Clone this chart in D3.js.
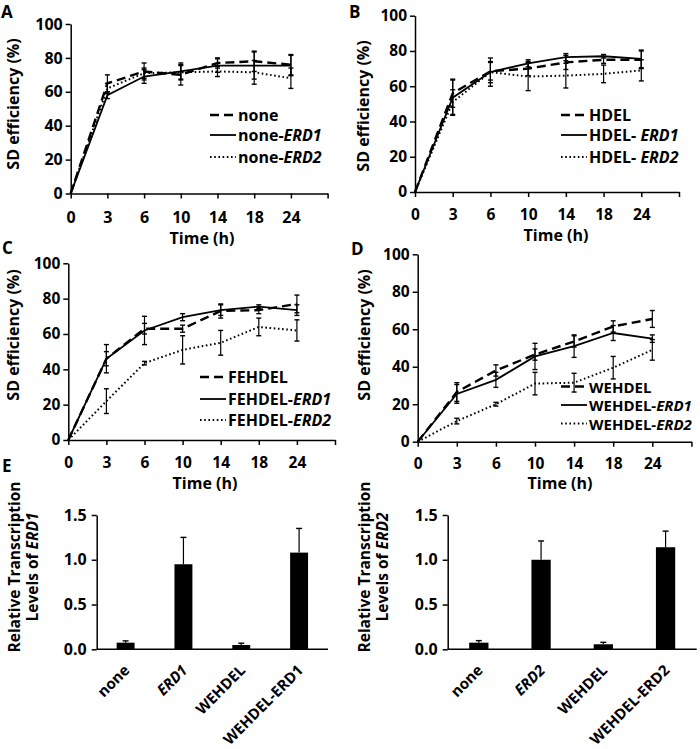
<!DOCTYPE html>
<html><head><meta charset="utf-8">
<script src="https://cdn.jsdelivr.net/npm/d3@7"></script>
<style>
body{margin:0;background:#fff}
text{font-family:"Open Sans",sans-serif;font-weight:700;fill:#000}
</style>
</head><body>
<svg id="c" width="700" height="749"></svg>
<script>
// ---------------- DATA ----------------
const timeLabels = ["0","3","6","10","14","18","24"];
const yTicksLine = [0,20,40,60,80,100];

// Panel A
const A_none      = [0, 65, 72, 70, 77, 78, 76];
const A_none_err  = [0, 5, 5, 6, 3, 6, 6];
const A_erd1      = [0, 58, 69, 72, 75.5, 75.5, 75.5];
const A_erd1_err  = [0, 2, 4, 5, 4, 8, 6];
const A_erd2      = [0, 62, 71, 71.5, 72, 71.5, 68];
const A_erd2_err  = [0, 3, 3, 4, 3, 7, 6];
// Panel B
const B_hdel      = [0, 56, 68.5, 70, 73.5, 75, 75];
const B_hdel_err  = [0, 8, 5, 4, 4, 2, 5];
const B_erd1      = [0, 53.5, 68, 73, 76.5, 77, 75.5];
const B_erd1_err  = [0, 10, 8, 2, 2, 1, 5];
const B_erd2      = [0, 51, 68, 65.5, 66, 67, 69];
const B_erd2_err  = [0, 7, 6, 8, 7, 5, 6];
// Panel C
const C_fehdel     = [0, 46, 63, 63, 73, 73.5, 77];
const C_fehdel_err = [0, 4, 3, 2, 4, 2, 5];
const C_erd1       = [0, 46, 62, 69.5, 73.5, 75.5, 73.5];
const C_erd1_err   = [0, 8, 8, 2, 3, 1, 3];
const C_erd2       = [0, 22, 43.5, 51, 55, 64, 62];
const C_erd2_err   = [0, 7, 1, 8, 7, 5, 6];
// Panel D
const D_wehdel     = [0, 26.5, 38, 46.5, 53.5, 61.5, 65.5];
const D_wehdel_err = [0, 5, 3, 3, 3, 3, 4.5];
const D_erd1       = [0, 25.5, 33, 45.5, 51, 58, 55];
const D_erd1_err   = [0, 5, 4, 7, 6, 4, 2];
const D_erd2       = [0, 11, 20, 31, 31.5, 39.5, 49];
const D_erd2_err   = [0, 1.5, 1, 6, 5, 6, 5.5];

// Panel E
const E_ticks      = [0, 0.5, 1.0, 1.5];
const E1_cats      = ["none", "ERD1", "WEHDEL", "WEHDEL-ERD1"];
const E1_values    = [0.074, 0.95, 0.048, 1.08];
const E1_err       = [0.02, 0.30, 0.02, 0.27];
const E2_cats      = ["none", "ERD2", "WEHDEL", "WEHDEL-ERD2"];
const E2_values    = [0.074, 1.0, 0.056, 1.14];
const E2_err       = [0.023, 0.21, 0.022, 0.18];

// ---------------- DRAW ----------------
const svg = d3.select("#c");
const styles = {
  dashed: {w: 2.4, dash: "9,5"},
  solid:  {w: 1.8, dash: null},
  dotted: {w: 2.0, dash: "1.6,2.6"}
};

function drawLinePanel(p) {
  const g = svg.append("g");
  const x = d3.scaleLinear().domain([0, 7]).range([p.x0, p.x1]);
  const y = d3.scaleLinear().domain([0, 100]).range([p.y0, p.y1]);

  const ya = g.append("g").attr("transform", `translate(${p.x0},0)`)
    .call(d3.axisLeft(y).tickValues(yTicksLine).tickSize(5).tickSizeOuter(0).tickPadding(3));
  const xa = g.append("g").attr("transform", `translate(0,${p.y0})`)
    .call(d3.axisBottom(x).tickValues(d3.range(8)).tickSize(5).tickSizeOuter(0)
      .tickFormat(i => timeLabels[i] !== undefined ? timeLabels[i] : ""));
  [ya, xa].forEach(a => {
    a.selectAll("path,line").attr("stroke", "#000").attr("stroke-width", 1.5);
    a.selectAll("text").style("font-size", p.tickFs).attr("font-family", null);
  });
  xa.selectAll("text").attr("y", p.tickY - p.y0).attr("dy", "0.36em");

  g.append("text").attr("x", p.titleX).attr("y", p.titleY)
    .attr("text-anchor", "middle").attr("dominant-baseline", "central")
    .style("font-size", "16px").text("Time (h)");
  g.append("text").attr("transform", `translate(${p.ytx},${p.yty}) rotate(-90)`)
    .attr("text-anchor", "middle").attr("dominant-baseline", "central")
    .style("font-size", "16px").text("SD efficiency (%)");
  g.append("text").attr("x", p.lx).attr("y", p.ly).style("font-size", "17px").text(p.letter);

  p.series.forEach(s => {
    const st = styles[s.style];
    s.values.forEach((v, i) => {
      const e = s.err[i];
      if (!e) return;
      const cx = x(i);
      g.append("line").attr("x1", cx).attr("x2", cx).attr("y1", y(v - e)).attr("y2", y(v + e))
        .attr("stroke", "#000").attr("stroke-width", 1.2);
      [v - e, v + e].forEach(t => g.append("line").attr("x1", cx - 2.5).attr("x2", cx + 2.5)
        .attr("y1", y(t)).attr("y2", y(t)).attr("stroke", "#000").attr("stroke-width", 1.4));
    });
    g.append("path").datum(s.values)
      .attr("d", d3.line().x((d, i) => x(i)).y(d => y(d)))
      .attr("fill", "none").attr("stroke", "#000").attr("stroke-width", st.w)
      .attr("stroke-dasharray", st.dash);
  });

  p.series.forEach((s, k) => {
    const st = styles[s.style];
    const ly = p.legY[k];
    g.append("line").attr("x1", p.legX).attr("x2", p.legX + 26).attr("y1", ly).attr("y2", ly)
      .attr("stroke", "#000").attr("stroke-width", st.w).attr("stroke-dasharray", st.dash);
    const t = g.append("text").attr("x", p.legX + 28).attr("y", ly)
      .attr("dominant-baseline", "central").style("font-size", p.legFs);
    t.append("tspan").text(s.name[0]);
    if (s.name[1]) t.append("tspan").style("font-style", "italic").text(s.name[1]);
  });
}

drawLinePanel({letter: "A", lx: 1, ly: 17.5, x0: 70.7, x1: 327.6, y0: 193.5, y1: 24,
  tickY: 217.5, titleX: 202, titleY: 238, ytx: 12.5, yty: 104, legX: 210, legY: [115, 135, 157],
  tickFs: "16px", legFs: "16px",
  series: [
    {name: ["none"], style: "dashed", values: A_none, err: A_none_err},
    {name: ["none-", "ERD1"], style: "solid", values: A_erd1, err: A_erd1_err},
    {name: ["none-", "ERD2"], style: "dotted", values: A_erd2, err: A_erd2_err}
  ]});
drawLinePanel({letter: "B", lx: 349, ly: 17.5, x0: 415, x1: 679, y0: 192, y1: 15.7,
  tickY: 214.5, titleX: 556, titleY: 235, ytx: 362.5, yty: 106, legX: 561, legY: [115, 135, 157],
  tickFs: "15.5px", legFs: "16px",
  series: [
    {name: ["HDEL"], style: "dashed", values: B_hdel, err: B_hdel_err},
    {name: ["HDEL- ", "ERD1"], style: "solid", values: B_erd1, err: B_erd1_err},
    {name: ["HDEL- ", "ERD2"], style: "dotted", values: B_erd2, err: B_erd2_err}
  ]});
drawLinePanel({letter: "C", lx: 2, ly: 254, x0: 68.3, x1: 335, y0: 440, y1: 263.3,
  tickY: 462.5, titleX: 205, titleY: 482.5, ytx: 12.5, yty: 335, legX: 200, legY: [377, 399, 420],
  tickFs: "15.5px", legFs: "16px",
  series: [
    {name: ["FEHDEL"], style: "dashed", values: C_fehdel, err: C_fehdel_err},
    {name: ["FEHDEL-", "ERD1"], style: "solid", values: C_erd1, err: C_erd1_err},
    {name: ["FEHDEL-", "ERD2"], style: "dotted", values: C_erd2, err: C_erd2_err}
  ]});
drawLinePanel({letter: "D", lx: 351, ly: 255, x0: 417.7, x1: 691.4, y0: 441.7, y1: 254.3,
  tickY: 463.5, titleX: 560, titleY: 483, ytx: 363.5, yty: 335, legX: 561, legY: [386.5, 405, 423.5],
  tickFs: "15.5px", legFs: "15px",
  series: [
    {name: ["WEHDEL"], style: "dashed", values: D_wehdel, err: D_wehdel_err},
    {name: ["WEHDEL-", "ERD1"], style: "solid", values: D_erd1, err: D_erd1_err},
    {name: ["WEHDEL-", "ERD2"], style: "dotted", values: D_erd2, err: D_erd2_err}
  ]});

svg.append("text").attr("x", 2).attr("y", 472).style("font-size", "17px").text("E");

function drawBarPanel(p) {
  const g = svg.append("g");
  const x = d3.scaleBand().domain(p.cats).range([p.x0, p.x1]).padding(0);
  const y = d3.scaleLinear().domain([0, 1.5]).range([p.y0, p.y1]);
  const bw = x.bandwidth() * 0.31;

  const ya = g.append("g").attr("transform", `translate(${p.x0},0)`)
    .call(d3.axisLeft(y).tickValues(E_ticks).tickSize(5).tickSizeOuter(0).tickPadding(5)
      .tickFormat(d3.format(".1f")));
  ya.selectAll("path,line").attr("stroke", "#000").attr("stroke-width", 1.5);
  ya.selectAll("text").style("font-size", "16px").attr("font-family", null);
  g.append("line").attr("x1", p.x0).attr("x2", p.x1).attr("y1", p.y0).attr("y2", p.y0)
    .attr("stroke", "#000").attr("stroke-width", 1.5);

  p.cats.forEach((c, i) => {
    const cx = x(c) + x.bandwidth() / 2;
    const v = p.values[i], e = p.err[i];
    g.append("line").attr("x1", cx).attr("x2", cx).attr("y1", y(v)).attr("y2", y(v + e))
      .attr("stroke", "#000").attr("stroke-width", 1.2);
    g.append("line").attr("x1", cx - 3).attr("x2", cx + 3).attr("y1", y(v + e)).attr("y2", y(v + e))
      .attr("stroke", "#000").attr("stroke-width", 1.4);
    g.append("rect").attr("x", cx - bw / 2).attr("width", bw).attr("y", y(v))
      .attr("height", y(0) - y(v)).attr("fill", "#000");
    const t = g.append("text").attr("transform", `translate(${cx + 5},${p.y0 + 22}) rotate(-45)`)
      .attr("text-anchor", "end").style("font-size", "15px");
    if (c === p.gene) t.style("font-style", "italic");
    t.text(c);
  });

  const tt = g.append("text").attr("transform", `translate(${p.tx},${p.ty}) rotate(-90)`)
    .attr("text-anchor", "middle").style("font-size", "15.5px");
  tt.append("tspan").attr("x", 0).attr("dy", "-0.25em").text("Relative Transcription");
  const l2 = tt.append("tspan").attr("x", 0).attr("dy", "1.15em");
  l2.append("tspan").text("Levels of ");
  l2.append("tspan").style("font-style", "italic").text(p.gene);
}

drawBarPanel({cats: E1_cats, values: E1_values, err: E1_err, gene: "ERD1",
  x0: 96.7, x1: 328, y0: 649.3, y1: 515, tx: 24, ty: 567});
drawBarPanel({cats: E2_cats, values: E2_values, err: E2_err, gene: "ERD2",
  x0: 447.7, x1: 696.7, y0: 649.3, y1: 515, tx: 374, ty: 567});
</script>
</body></html>
